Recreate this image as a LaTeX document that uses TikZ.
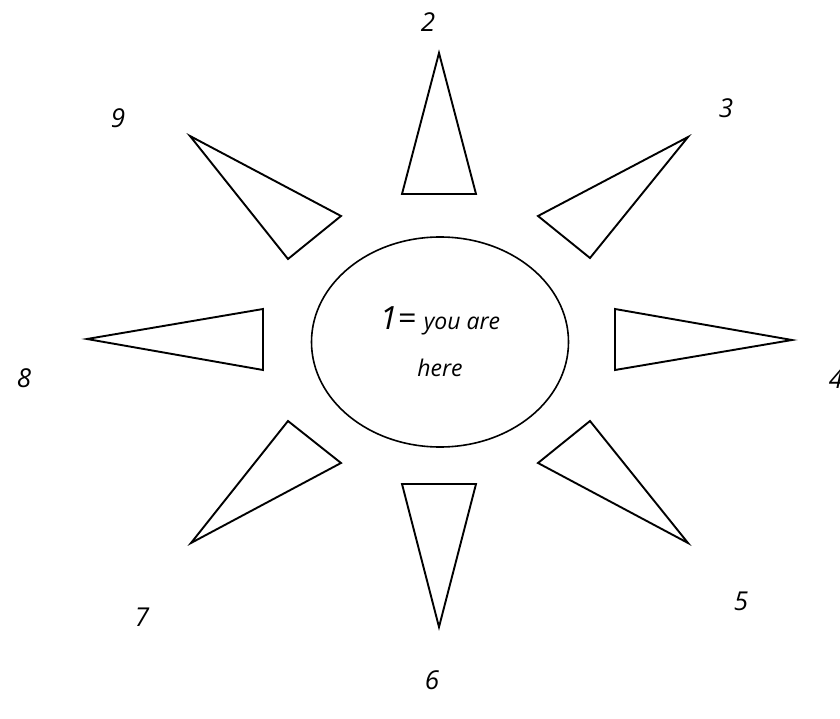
\documentclass[tikz,border=0pt]{standalone}
\usepackage{fontspec}
\setmainfont{Open Sans}
\usetikzlibrary{shapes.geometric}

\begin{document}
\begin{tikzpicture}[
            x = 1pt,
            y = -1pt,
            ray/.style = {
                draw       = black,
                line width = 1.9pt,
                line join  = miter
            },
            hub/.style = {
                ellipse,
                draw           = black,
                line width     = 1.6pt,
                minimum width  = 257pt,
                minimum height = 210pt,
                inner sep      = 0pt,
                align          = center,
                font           = \itshape\fontsize{23}{47}\selectfont
            },
            tag/.style = {
                inner sep = 0pt,
                font      = \itshape\fontsize{26}{30}\selectfont
            }
        ]

            \useasboundingbox (0,0) rectangle (840,719);

            \node[hub] (hub) at (440,342)
                {{\fontsize{32}{40}\selectfont 1=}\hspace{8pt}you are \\ here};

            % rays, clockwise from the top
            \draw[ray] (439,53)  -- (476,194) -- (402,194) -- cycle;
            \draw[ray] (688,137) -- (590,258) -- (538,216) -- cycle;
            \draw[ray] (792,340) -- (615,370) -- (615,309) -- cycle;
            \draw[ray] (688,543) -- (538,463) -- (590,421) -- cycle;
            \draw[ray] (439,627) -- (402,484) -- (476,484) -- cycle;
            \draw[ray] (191,543) -- (288,421) -- (341,463) -- cycle;
            \draw[ray] (87,339)  -- (263,309) -- (263,370) -- cycle;
            \draw[ray] (190,136) -- (341,216) -- (288,259) -- cycle;

            \node[tag] (two)   at (428,22)  {2};
            \node[tag] (three) at (726,108) {3};
            \node[tag] (four)  at (836,379) {4};
            \node[tag] (five)  at (741,601) {5};
            \node[tag] (six)   at (432,680) {6};
            \node[tag] (seven) at (142,617) {7};
            \node[tag] (eight) at (24,378)  {8};
            \node[tag] (nine)  at (118,118) {9};
        \end{tikzpicture}
\end{document}
